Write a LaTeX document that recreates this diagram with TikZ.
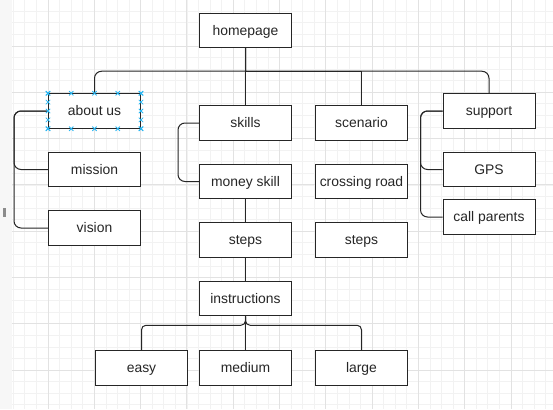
\documentclass[tikz,border=0pt]{standalone}
\usepackage{fontspec}
\setmainfont{Liberation Sans}
\usetikzlibrary{positioning,calc}

\definecolor{gridminor}{HTML}{F2F2F2}
\definecolor{gridmajor}{HTML}{E2E2E2}
\definecolor{selblue}{HTML}{29B6F2}

\begin{document}
\begin{tikzpicture}[x=1pt,y=1pt]
  \newcommand{\boxwidth}[0]{92pt}
  \newcommand{\boxheight}[0]{34.5pt}
  \newcommand{\rowgap}[0]{23pt}
  \newcommand{\colgap}[0]{23pt}
  \newcommand{\busdrop}[0]{23pt}

  \coordinate (origo) at (0,0);

  \tikzstyle{box}=[
    rectangle,
    draw=black!85,
    fill=white,
    anchor=center,
    align=center,
    line width=1pt,
    inner sep=0pt,
    minimum width=\boxwidth,
    minimum height=\boxheight,
    text height=11.5pt,
    text depth=2pt,
    text=black!85,
    font=\fontsize{13.9}{16}\selectfont,
  ]
  \tikzstyle{edge} = [
    line width=1pt,
    draw=black!85,
    rounded corners=7pt,
  ]
  \tikzstyle{minorgrid} = [
    draw=gridminor,
    line width=0.8pt,
  ]
  \tikzstyle{majorgrid} = [
    draw=gridmajor,
    line width=0.9pt,
  ]
  \tikzstyle{handle} = [
    draw=selblue,
    line width=0.8pt,
  ]

  \useasboundingbox (origo) rectangle (553,-409);

  % canvas
  \fill[white] (origo) rectangle (553,-409);
  \fill[black!3] (origo) rectangle (12,-409);
  \begin{scope}
    \clip (12,0) rectangle (553,-409);
    \foreach \k in {0,...,46}
      \draw[minorgrid] ({13.3+11.575*\k},0) -- ++(0,-409);
    \foreach \k in {0,...,35}
      \draw[minorgrid] (12,{0.3-11.575*\k}) -- ++(541,0);
    \foreach \k in {0,...,10}
      \draw[majorgrid] ({48+46.3*\k},0) -- ++(0,-409);
    \foreach \k in {0,...,8}
      \draw[majorgrid] (12,{0.3-46.3*\k}) -- ++(541,0);
  \end{scope}
  \fill[black!45] (3,-208) rectangle (6,-217);

  % homepage
  \node[box] (homepage) at (245.5,-30.5) {homepage};
  \coordinate (hub) at ([yshift=-\busdrop] homepage.south);

  % middle columns
  {
    \node[box,anchor=north] (skills) at ([yshift=-57pt] homepage.south) {skills};
    \node[box,anchor=west] (scenario) at ([xshift=\colgap] skills.east) {scenario};
    \node[box,anchor=north] (money) at ([yshift=-\rowgap] skills.south) {money skill};
    \node[box,anchor=west] (crossing) at ([xshift=\colgap] money.east) {crossing road};
    \node[box,anchor=north] (stepsI) at ([yshift=-\rowgap] money.south) {steps};
    \node[box,anchor=west] (stepsII) at ([xshift=\colgap] stepsI.east) {steps};
    \node[box,anchor=north] (instructions) at ([yshift=-\rowgap] stepsI.south) {instructions};

    \draw[edge] (skills.west) -- ++(-21pt,0) |- (money.west);
    \draw[edge] (money.south) -- (stepsI.north);
    \draw[edge] (stepsI.south) -- (instructions.north);
  }

  % left column
  {
    \node[box,anchor=north] (aboutus)
      at ([xshift=-151pt, yshift=-\busdrop-22pt] homepage.south) {about us};
    \node[box,anchor=north] (mission) at ([yshift=-\rowgap] aboutus.south) {mission};
    \node[box,anchor=north] (vision) at ([yshift=-\rowgap] mission.south) {vision};

    \draw[edge] (aboutus.west) -- ++(-34pt,0) |- (mission.west);
    \draw[edge] (aboutus.west) -- ++(-34pt,0) |- (vision.west);
  }

  % right column
  {
    \node[box,anchor=north] (support)
      at ([xshift=243.5pt, yshift=-\busdrop-22pt] homepage.south) {support};
    \node[box,anchor=north] (gps) at ([yshift=-\rowgap] support.south) {GPS};
    \node[box,anchor=north] (parents) at ([yshift=-12pt] gps.south) {call parents};

    \draw[edge] (support.west) -- ++(-22pt,0) |- (gps.west);
    \draw[edge] (support.west) -- ++(-22pt,0) |- (parents.west);
  }

  % bottom row
  {
    \node[box,anchor=north] (medium) at ([yshift=-34pt] instructions.south) {medium};
    \node[box,anchor=east] (easy) at ([xshift=-11pt] medium.west) {easy};
    \node[box,anchor=west] (large) at ([xshift=\colgap] medium.east) {large};

    \draw[edge,rounded corners=4.5pt] (instructions.south) -- ++(0,-9pt) -| (easy.north);
    \draw[edge] (instructions.south) -- (medium.north);
    \draw[edge,rounded corners=4.5pt] (instructions.south) -- ++(0,-9pt) -| (large.north);
  }

  % top bus
  \draw[edge,sharp corners] (homepage.south) -- (hub)
    [rounded corners=7pt] -- (hub -| aboutus.north) -- (aboutus.north);
  \draw[edge] (homepage.south) -- (skills.north);
  \draw[edge,sharp corners] (homepage.south) -- (hub) -- (scenario.north |- hub) -- (scenario.north);
  \draw[edge,sharp corners] (homepage.south) -- (hub)
    [rounded corners=7pt] -- (hub -| support.north) -- (support.north);

  % selection handles
  \foreach \f in {0,0.25,0.5,0.75,1} {
    \foreach \a/\b in {north west/north east, south west/south east,
                       north west/south west, north east/south east} {
      \coordinate (h) at ($(aboutus.\a)!\f!(aboutus.\b)$);
      \draw[handle] ([shift={(-2.2pt,-2.2pt)}] h) -- ++(4.4pt,4.4pt)
                    ([shift={(-2.2pt,2.2pt)}] h) -- ++(4.4pt,-4.4pt);
    }
  }
\end{tikzpicture}
\end{document}
